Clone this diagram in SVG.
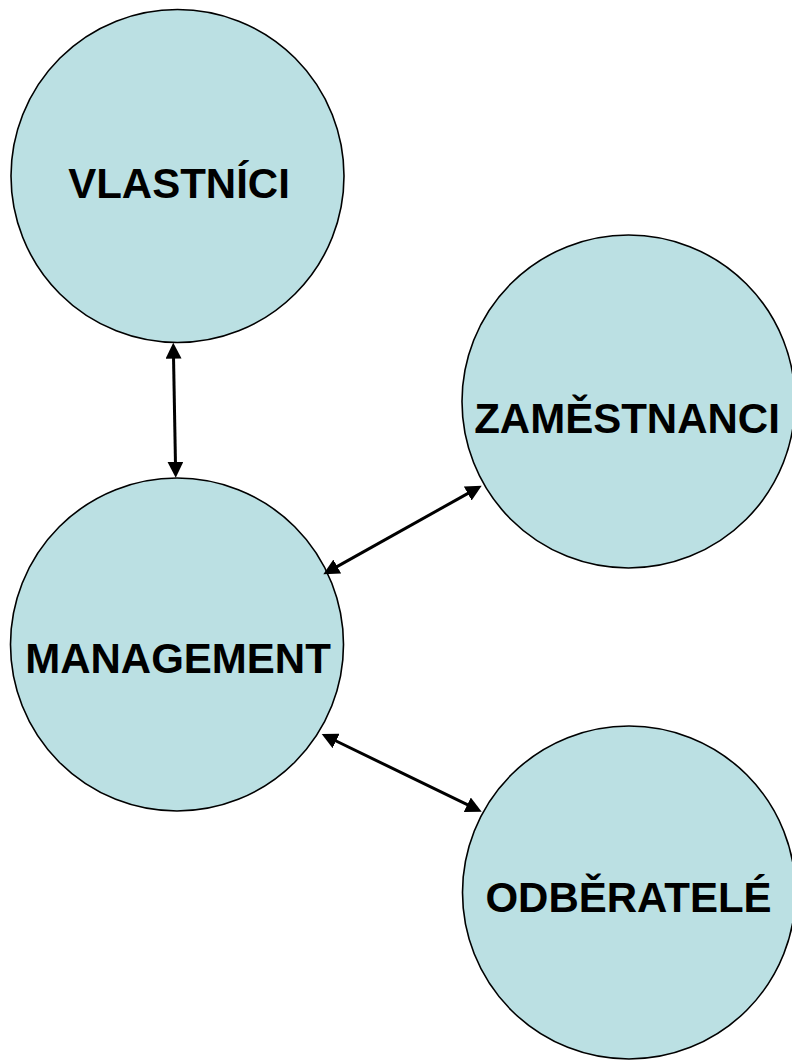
<svg xmlns="http://www.w3.org/2000/svg" width="792" height="1061" viewBox="0 0 792 1061">
<style>
.node circle{fill:#BBE0E3;stroke:#000;stroke-width:1.6}
.node text{font-family:"Liberation Sans",Arial,sans-serif;font-weight:bold;font-size:42px;fill:#000;text-anchor:middle}
.conn line{stroke:#000;stroke-width:3;fill:none}
</style>
<defs>
<marker id="ah" viewBox="0 0 16 16" markerUnits="userSpaceOnUse" markerWidth="16" markerHeight="16" refX="8" refY="8" orient="auto-start-reverse">
<path d="M0,0 L16,8 L0,16 z" fill="#000"/>
</marker>
</defs>
<rect width="792" height="1061" fill="#fff"/>
<g id="vlastnici" class="node"><circle cx="177.5" cy="176" r="166.5"/><text x="179" y="198">VLASTNÍCI</text></g>
<g id="zamestnanci" class="node"><circle cx="628.5" cy="401.5" r="166.5"/><text x="627" y="433">ZAMĚSTNANCI</text></g>
<g id="management" class="node"><circle cx="177" cy="644.5" r="166.5"/><text x="178" y="673">MANAGEMENT</text></g>
<g id="odberatele" class="node"><circle cx="629" cy="892.5" r="166.5"/><text x="628.5" y="912">ODBĚRATELÉ</text></g>
<g id="connectors" class="conn">
<line x1="173.4" y1="350.7" x2="175.6" y2="469.7" marker-start="url(#ah)" marker-end="url(#ah)"/>
<line x1="330.3" y1="570.4" x2="474.7" y2="489.6" marker-start="url(#ah)" marker-end="url(#ah)"/>
<line x1="328.9" y1="737.5" x2="474.5" y2="808.2" marker-start="url(#ah)" marker-end="url(#ah)"/>
</g>
</svg>
